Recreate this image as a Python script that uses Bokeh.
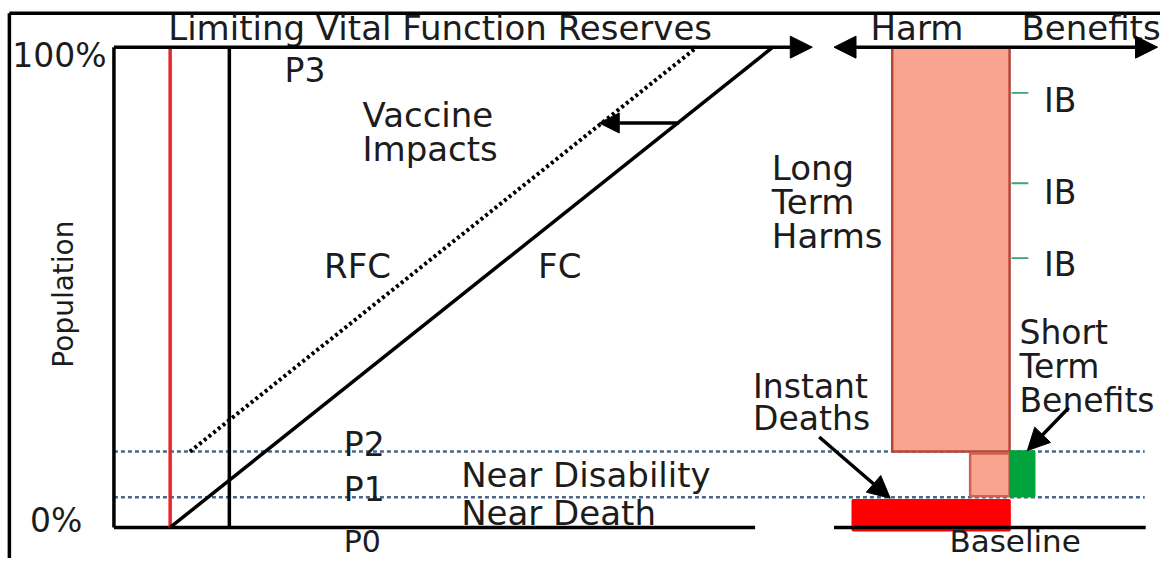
from bokeh.plotting import figure
from bokeh.models import Range1d, Arrow, NormalHead, ColumnDataSource
from bokeh.embed import file_html
from bokeh.resources import INLINE
from bokeh.core.properties import value
import math

# ---------------- data (diagram coordinates, image pixel space) ----------------
IMG_W, IMG_H = 1176, 574

# population levels: P0 = 0% ... P3 = 100%
level_names = ["P0", "P1", "P2", "P3"]
level_y = [542, 511, 464, 48]

# reserves panel
reserve_left = 115
reserve_arrow_tip = 823
reserve_bottom_right = 765
red_line_x = 172
black_line_x = 232
fc_x = [172, 783]
fc_y = [542, 48]
rfc_x = [192, 706]
rfc_y = [464, 48]
vaccine_arrow_x = [688, 607]
vaccine_arrow_y = [126, 126]

# harm / benefit panel
harm_axis_x = [845, 1173]
baseline_x = [845, 1161]
dotted_right = 1160
bar_names = ["Long Term Harms", "Near Disability Harm", "Instant Deaths", "Short Term Benefits"]
bar_left = [904, 983, 864, 1024]
bar_right = [1023, 1023, 1023, 1048]
bar_top = [48, 466, 514, 464]
bar_bottom = [464, 510, 545, 510]
bar_fill = ["#F9A48E", "#F9A48E", "#FF0000", "#00A33C"]
bar_line = ["#B5473A", "#D0604F", "#FF0000", "#00A33C"]
ib_tick_y = [95, 188, 265]
ib_label_y = [103, 197, 272]

# annotation arrows (start -> end)
deaths_arrow = [830, 449, 902, 512]
benefits_arrow = [1083, 419, 1041, 463]

# texts: (text, left x, baseline y, size)
texts = [
    ("Limiting Vital Function Reserves", 170, 28, 34),
    ("Harm", 882, 28, 34),
    ("Benefits", 1035, 28, 34),
    ("100%", 12, 57, 33),
    ("0%", 30, 535, 33),
    ("P3", 288, 72, 33),
    ("Vaccine", 367, 118, 34),
    ("Impacts", 367, 153, 34),
    ("RFC", 328, 273, 34),
    ("FC", 545, 273, 34),
    ("Long", 782, 172, 34),
    ("Term", 782, 207, 34),
    ("Harms", 782, 242, 34),
    ("Instant", 763, 397, 33),
    ("Deaths", 763, 430, 33),
    ("Short", 1033, 342, 33),
    ("Term", 1033, 377, 33),
    ("Benefits", 1033, 411, 33),
    ("IB", 1058, ib_label_y[0], 33),
    ("IB", 1058, ib_label_y[1], 33),
    ("IB", 1058, ib_label_y[2], 33),
    ("P2", 348, 457, 33),
    ("P1", 348, 503, 33),
    ("P0", 348, 556, 30),
    ("Near Disability", 467, 488, 34),
    ("Near Death", 467, 527, 34),
    ("Baseline", 962, 556, 31),
]

FONT = "DejaVu Sans"
TXT = "#1c1c1c"
LW = 3.5

# ---------------- figure ----------------
p = figure(width=1160, height=558,
           x_range=Range1d(0, IMG_W), y_range=Range1d(IMG_H, 0),
           output_backend="svg", toolbar_location=None,
           min_border=0, min_border_left=0, min_border_right=0,
           min_border_top=0, min_border_bottom=0)
p.axis.visible = False
p.grid.visible = False
p.outline_line_color = None
p.background_fill_color = "white"
p.border_fill_color = "white"

# outer frame (top & left)
p.line([9, IMG_W], [13, 13], line_color="black", line_width=LW)
p.line([9, 9], [13, IMG_H], line_color="black", line_width=LW)

# dotted population level lines P1, P2
for yv in level_y[1:3]:
    p.line([reserve_left, dotted_right], [yv, yv], line_color="#4B6688",
           line_width=2.6, line_dash="4 3")

# bars in harm/benefit panel
src = ColumnDataSource(dict(left=bar_left, right=bar_right, top=bar_top, bottom=bar_bottom,
                            fill=bar_fill, line=bar_line, name=bar_names))
p.quad(left="left", right="right", top="top", bottom="bottom", source=src,
       fill_color="fill", line_color="line", line_width=2.5)

# IB ticks
for yv in ib_tick_y:
    p.line([1025, 1042], [yv, yv], line_color="#3AA57A", line_width=1.8)

# reserves panel frame
p.line([reserve_left, reserve_left], [level_y[3], level_y[0]], line_color="black", line_width=LW)
p.line([reserve_left, reserve_bottom_right], [level_y[0], level_y[0]], line_color="black", line_width=LW)
p.line([red_line_x, red_line_x], [level_y[3], level_y[0]], line_color="#E8262B", line_width=LW)
p.line([black_line_x, black_line_x], [level_y[3], level_y[0]], line_color="black", line_width=LW)

# FC and RFC
p.line(fc_x, fc_y, line_color="black", line_width=LW)
p.line(rfc_x, rfc_y, line_color="black", line_width=4, line_dash="3 3")

# baseline on the right
p.line(baseline_x, [level_y[0], level_y[0]], line_color="black", line_width=LW)

# arrows
def head(sz):
    return NormalHead(size=sz, fill_color="black", line_color="black", line_width=1)

p.add_layout(Arrow(end=head(22), x_start=reserve_left, y_start=level_y[3],
                   x_end=reserve_arrow_tip, y_end=level_y[3],
                   line_color="black", line_width=LW))
p.add_layout(Arrow(start=head(22), end=head(22), x_start=harm_axis_x[0], y_start=level_y[3],
                   x_end=harm_axis_x[1], y_end=level_y[3],
                   line_color="black", line_width=LW))
p.add_layout(Arrow(end=head(20), x_start=vaccine_arrow_x[0], y_start=vaccine_arrow_y[0],
                   x_end=vaccine_arrow_x[1], y_end=vaccine_arrow_y[1],
                   line_color="black", line_width=LW))
p.add_layout(Arrow(end=head(22), x_start=deaths_arrow[0], y_start=deaths_arrow[1],
                   x_end=deaths_arrow[2], y_end=deaths_arrow[3],
                   line_color="black", line_width=LW))
p.add_layout(Arrow(end=head(22), x_start=benefits_arrow[0], y_start=benefits_arrow[1],
                   x_end=benefits_arrow[2], y_end=benefits_arrow[3],
                   line_color="black", line_width=LW))

# texts
for size in sorted(set(t[3] for t in texts)):
    sub = [t for t in texts if t[3] == size]
    p.text(x=[t[1] for t in sub], y=[t[2] for t in sub], text=[t[0] for t in sub],
           text_font=value(FONT), text_font_size=f"{size}px", text_color=TXT,
           text_align="left", text_baseline="alphabetic")

# rotated axis title
p.text(x=[64], y=[302], text=["Population"], angle=math.pi / 2,
       text_font=value(FONT), text_font_size="28px", text_color=TXT,
       text_align="center", text_baseline="middle")

open("out.html", "w").write(file_html(p, INLINE))
